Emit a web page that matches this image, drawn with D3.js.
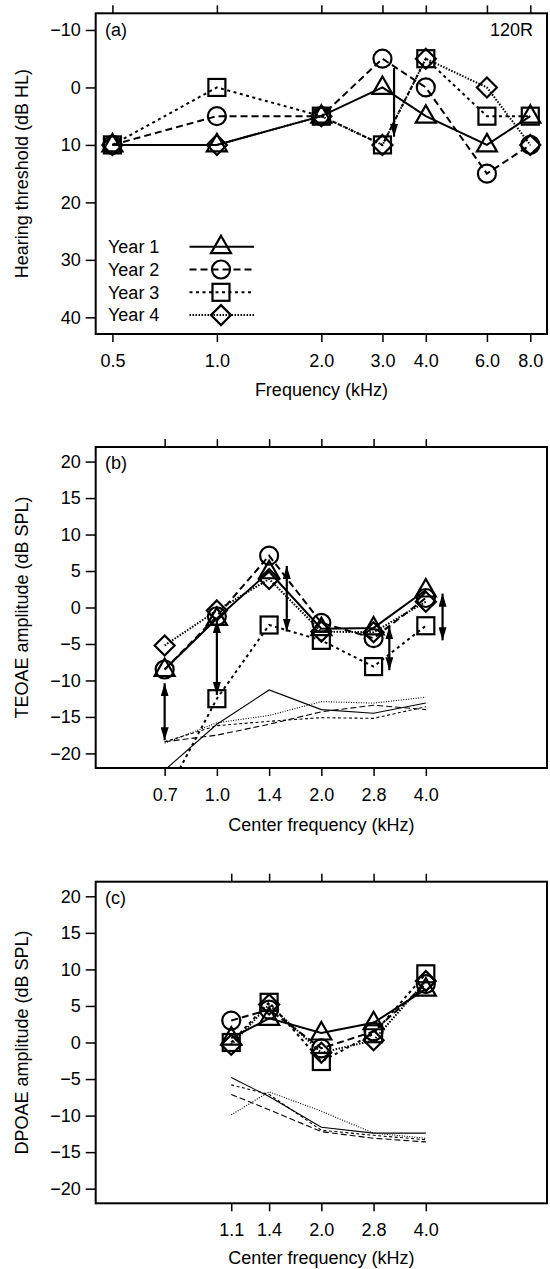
<!DOCTYPE html>
<html>
<head>
<meta charset="utf-8">
<script src="https://cdn.jsdelivr.net/npm/d3@7"></script>
<style>
    body { margin: 0; background: #fff; }
    text { font-family: "Liberation Sans", Arial, sans-serif; fill: #000; }
</style>
</head>
<body>
<svg id="drawing_region"></svg>
<script>
// (a) hearing thresholds, dB HL
const freqA = [0.5, 1.0, 2.0, 3.0, 4.0, 6.0, 8.0];
const freqLabelsA = ['0.5', '1.0', '2.0', '3.0', '4.0', '6.0', '8.0'];
const yTicksA = [-10, 0, 10, 20, 30, 40];
const hlYear1 = [10, 10, 5, 0, 5, 10, 5];
const hlYear2 = [10, 5, 5, -5, 0, 15, 10];
const hlYear3 = [10, 0, 5, 10, -5, 5, 5];
const hlYear4 = [10, 10, 5, 10, -5, 0, 10];
const arrowsA = [{freq: 3.24, from: -3.4, to: 8.6, both: false}];

// (b) TEOAE amplitude, dB SPL
const freqB = [0.7071, 1.0, 1.4142, 2.0, 2.8284, 4.0];
const freqLabelsB = ['0.7', '1.0', '1.4', '2.0', '2.8', '4.0'];
const yTicksOae = [20, 15, 10, 5, 0, -5, -10, -15, -20];
const teYear1 = [-8.5, -1.5, 4.9, -2.9, -2.8, 2.4];
const teYear2 = [-8.5, -1.2, 7.1, -2.1, -4.2, 1.3];
const teYear3 = [-26, -12.5, -2.4, -4.5, -8.1, -2.5];
const teYear4 = [-5.2, -0.4, 3.9, -3.3, -3.4, 0.8];
const teNoise1 = [-22.3, -16.0, -11.3, -14.0, -14.5, -13.1];
const teNoise2 = [-18.4, -17.5, -16.0, -14.3, -13.4, -14.0];
const teNoise3 = [-18.4, -16.2, -15.6, -15.1, -15.2, -13.6];
const teNoise4 = [-18.6, -15.8, -14.8, -12.9, -13.1, -12.3];
const arrowsB = [
    {freq: 0.7071, from: -10.4, to: -18.2, both: true},
    {freq: 1.0, from: -1.7, to: -12.0, both: true},
    {freq: 1.59, from: 5.7, to: -3.3, both: true},
    {freq: 3.14, from: -2.6, to: -8.6, both: true},
    {freq: 4.47, from: 1.9, to: -4.5, both: true}
];

// (c) DPOAE amplitude, dB SPL
const freqC = [1.1, 1.4142, 2.0, 2.8284, 4.0];
const freqLabelsC = ['1.1', '1.4', '2.0', '2.8', '4.0'];
const dpYear1 = [0.6, 3.3, 1.3, 2.7, 7.3];
const dpYear2 = [3.0, 4.5, -0.8, 1.5, 8.0];
const dpYear3 = [0.0, 5.5, -2.6, 1.2, 9.4];
const dpYear4 = [-0.3, 5.2, -1.4, 0.3, 8.4];
const dpNoise1 = [-4.8, -7.4, -11.6, -12.4, -12.4];
const dpNoise2 = [-7.1, -9.2, -12.2, -13.1, -13.6];
const dpNoise3 = [-5.8, -7.1, -12.0, -12.7, -13.3];
const dpNoise4 = [-9.9, -6.75, -9.4, -12.4, -13.1];

const yearNames = ['Year 1', 'Year 2', 'Year 3', 'Year 4'];

// look of each year: line dash, thin-line dash, symbol
const yearStyle = [
    {dash: null, thin: null, symbol: 'triangle'},
    {dash: '7,4', thin: '6,3', symbol: 'circle'},
    {dash: '3,3.5', thin: '3,2.5', symbol: 'square'},
    {dash: '1.5,1.5', thin: '1,1.5', symbol: 'diamond'}
];

const svg = d3.select('#drawing_region')
    .attr('width', 550)
    .attr('height', 1269);

// same log frequency axis for all three panels
const xScale = d3.scaleLog().base(2)
    .domain([Math.pow(2, -1.16), Math.pow(2, 3.16)])
    .range([95.7, 547]);

svg.append('defs').append('marker')
    .attr('id', 'head')
    .attr('viewBox', '0 0 13 8')
    .attr('refX', 13).attr('refY', 4)
    .attr('markerWidth', 13).attr('markerHeight', 8)
    .attr('markerUnits', 'userSpaceOnUse')
    .attr('orient', 'auto-start-reverse')
    .append('path')
    .attr('d', 'M0,0 L13,4 L0,8 Z')
    .attr('fill', 'black');

const minus = d => d < 0 ? '\u2212' + Math.abs(d) : '' + d;

class OaePanel {
    constructor(config, freqs, series, floors, arrows) {
        this.config = config;
        this.freqs = freqs;
        this.series = series;
        this.floors = floors || [];
        this.arrows = arrows || [];
        this.init();
    }

    init() {
        let self = this;
        let c = self.config;

        self.x = xScale;
        self.y = d3.scaleLinear()
            .domain(c.yDomain)
            .range([c.top, c.bottom]);

        self.chart = svg.append('g');

        self.chart.append('clipPath')
            .attr('id', c.id)
            .append('rect')
            .attr('x', xScale.range()[0])
            .attr('y', c.top)
            .attr('width', xScale.range()[1] - xScale.range()[0])
            .attr('height', c.bottom - c.top);
    }

    symbol(g, kind, cx, cy) {
        if (kind == 'circle') {
            g.append('circle').attr('cx', cx).attr('cy', cy).attr('r', 9);
        } else if (kind == 'square') {
            g.append('rect').attr('x', cx - 8.5).attr('y', cy - 8.5).attr('width', 17).attr('height', 17);
        } else if (kind == 'triangle') {
            g.append('path').attr('d', `M${cx},${cy - 11} L${cx + 10},${cy + 6.5} L${cx - 10},${cy + 6.5} Z`);
        } else {
            g.append('path').attr('d', `M${cx},${cy - 10} L${cx + 10},${cy} L${cx},${cy + 10} L${cx - 10},${cy} Z`);
        }
    }

    render() {
        let self = this;
        let c = self.config;
        let font = '"Liberation Sans", Arial, sans-serif';

        // axes
        let bottom = self.chart.append('g')
            .attr('transform', `translate(0,${c.bottom})`)
            .call(d3.axisBottom(self.x).tickValues(self.freqs)
                .tickFormat((d, i) => c.xLabels[i]).tickSize(8).tickPadding(12));
        let top = self.chart.append('g')
            .attr('transform', `translate(0,${c.top})`)
            .call(d3.axisTop(self.x).tickValues(self.freqs).tickFormat('').tickSize(8));
        let left = self.chart.append('g')
            .attr('transform', `translate(${xScale.range()[0]},0)`)
            .call(d3.axisLeft(self.y).tickValues(c.yTicks).tickFormat(minus).tickSize(10).tickPadding(5));

        [bottom, top, left].forEach(a => {
            a.select('.domain').remove();
            a.attr('font-size', 18).attr('font-family', font);
            a.selectAll('line').attr('stroke-width', 1.5);
        });

        self.chart.append('rect')
            .attr('x', xScale.range()[0])
            .attr('y', c.top)
            .attr('width', xScale.range()[1] - xScale.range()[0])
            .attr('height', c.bottom - c.top)
            .attr('fill', 'none')
            .attr('stroke', 'black')
            .attr('stroke-width', 2);

        // titles
        self.chart.append('text')
            .attr('x', 321.4)
            .attr('y', c.xTitleY)
            .attr('dy', '0.35em')
            .attr('text-anchor', 'middle')
            .attr('font-size', 18)
            .text(c.xTitle);

        self.chart.append('text')
            .attr('transform', `translate(22,${(c.top + c.bottom) / 2}) rotate(-90)`)
            .attr('dy', '0.35em')
            .attr('text-anchor', 'middle')
            .attr('font-size', 18)
            .text(c.yTitle);

        self.chart.append('text')
            .attr('x', 105)
            .attr('y', c.top + 16)
            .attr('dy', '0.35em')
            .attr('font-size', 18)
            .text(c.tag);

        if (c.corner) {
            self.chart.append('text')
                .attr('x', 533)
                .attr('y', c.top + 16)
                .attr('dy', '0.35em')
                .attr('text-anchor', 'end')
                .attr('font-size', 18)
                .text(c.corner);
        }

        let plot = self.chart.append('g').attr('clip-path', `url(#${c.id})`);

        // noise floors: thin lines
        self.floors.forEach((vals, i) => {
            let pts = self.freqs.map((f, j) => [f, vals[j]]);
            plot.append('path')
                .attr('d', d3.line().x(d => self.x(d[0])).y(d => self.y(d[1]))(pts))
                .attr('fill', 'none')
                .attr('stroke', 'black')
                .attr('stroke-width', 1.1)
                .attr('stroke-dasharray', yearStyle[i].thin);
        });

        // yearly series
        self.series.forEach((vals, i) => {
            let pts = self.freqs.map((f, j) => [f, vals[j]]);
            plot.append('path')
                .attr('d', d3.line().x(d => self.x(d[0])).y(d => self.y(d[1]))(pts))
                .attr('fill', 'none')
                .attr('stroke', 'black')
                .attr('stroke-width', 2)
                .attr('stroke-dasharray', yearStyle[i].dash);

            let marks = plot.append('g')
                .attr('fill', 'none')
                .attr('stroke', 'black')
                .attr('stroke-width', 2.2);
            pts.forEach(d => self.symbol(marks, yearStyle[i].symbol, self.x(d[0]), self.y(d[1])));
        });

        // change arrows
        self.arrows.forEach(a => {
            plot.append('line')
                .attr('x1', self.x(a.freq)).attr('x2', self.x(a.freq))
                .attr('y1', self.y(a.from)).attr('y2', self.y(a.to))
                .attr('stroke', 'black')
                .attr('stroke-width', 2.2)
                .attr('marker-end', 'url(#head)')
                .attr('marker-start', a.both ? 'url(#head)' : null);
        });

        if (c.legend) self.legend();
    }

    legend() {
        let self = this;
        let lg = self.chart.append('g');
        yearNames.forEach((name, i) => {
            let yy = 246.7 + i * 22.8;
            lg.append('text')
                .attr('x', 108)
                .attr('y', yy)
                .attr('dy', '0.35em')
                .attr('font-size', 18)
                .text(name);
            lg.append('line')
                .attr('x1', 189.5).attr('x2', 254)
                .attr('y1', yy).attr('y2', yy)
                .attr('stroke', 'black')
                .attr('stroke-width', 2)
                .attr('stroke-dasharray', yearStyle[i].dash);
            let m = lg.append('g')
                .attr('fill', 'none')
                .attr('stroke', 'black')
                .attr('stroke-width', 2.2);
            self.symbol(m, yearStyle[i].symbol, 221, yy);
        });
    }
}

const panelA = new OaePanel({
    id: 'clipA', top: 13.3, bottom: 334, yDomain: [-12.9, 42.9], yTicks: yTicksA,
    xLabels: freqLabelsA, xTitle: 'Frequency (kHz)', xTitleY: 390,
    yTitle: 'Hearing threshold (dB HL)', tag: '(a)', corner: '120R', legend: true
}, freqA, [hlYear1, hlYear2, hlYear3, hlYear4], [], arrowsA);
panelA.render();

const panelB = new OaePanel({
    id: 'clipB', top: 447, bottom: 768, yDomain: [22, -22], yTicks: yTicksOae,
    xLabels: freqLabelsB, xTitle: 'Center frequency (kHz)', xTitleY: 825,
    yTitle: 'TEOAE amplitude (dB SPL)', tag: '(b)'
}, freqB, [teYear1, teYear2, teYear3, teYear4], [teNoise1, teNoise2, teNoise3, teNoise4], arrowsB);
panelB.render();

const panelC = new OaePanel({
    id: 'clipC', top: 881.7, bottom: 1203.3, yDomain: [22, -22], yTicks: yTicksOae,
    xLabels: freqLabelsC, xTitle: 'Center frequency (kHz)', xTitleY: 1258,
    yTitle: 'DPOAE amplitude (dB SPL)', tag: '(c)'
}, freqC, [dpYear1, dpYear2, dpYear3, dpYear4], [dpNoise1, dpNoise2, dpNoise3, dpNoise4], []);
panelC.render();
</script>
</body>
</html>
